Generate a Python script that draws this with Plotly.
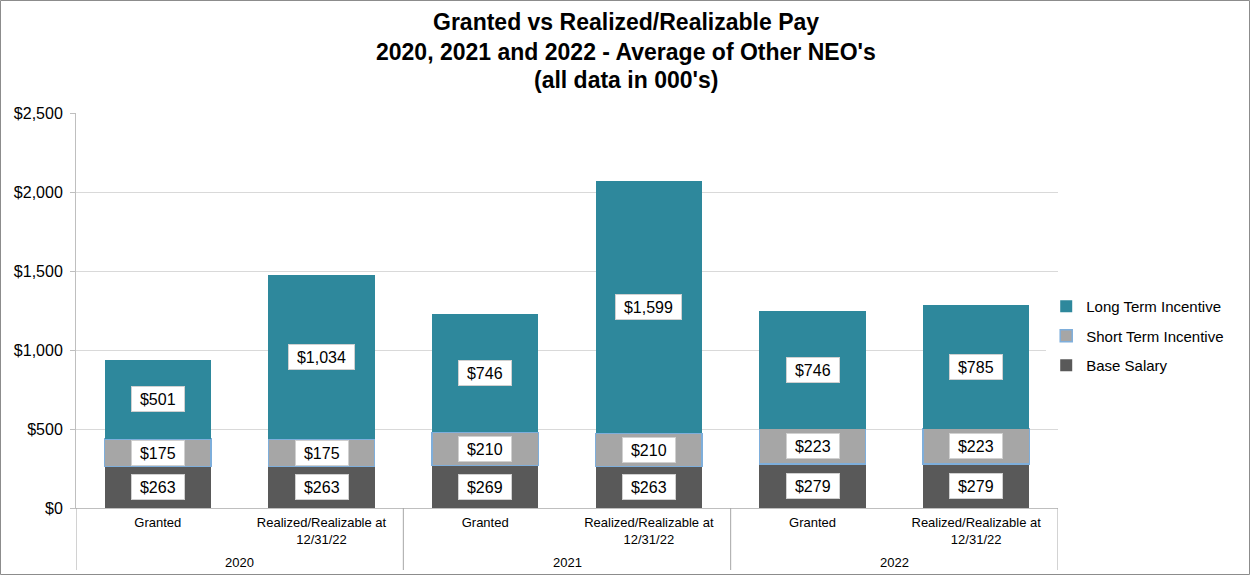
import plotly.graph_objects as go

years = ["2020", "2020", "2021", "2021", "2022", "2022"]
kinds = ["Granted", "Realized/Realizable at<br>12/31/22"] * 3
base_salary = [263, 263, 269, 263, 279, 279]
short_term = [175, 175, 210, 210, 223, 223]
long_term = [501, 1034, 746, 1599, 746, 785]
y_ticks = [0, 500, 1000, 1500, 2000, 2500]
y_tick_labels = ["$0", "$500", "$1,000", "$1,500", "$2,000", "$2,500"]
title_lines = ["Granted vs Realized/Realizable Pay",
               "2020, 2021 and 2022 - Average of Other NEO's",
               "(all data in 000's)"]

W, H = 1252, 577
ML, MR, MT, MB = 76, 194, 113, 69
pw = W - ML - MR
ph = H - MT - MB
FONT = "Liberation Sans, Arial"

xs = list(range(len(years)))

fig = go.Figure()
fig.add_trace(go.Bar(x=xs, y=base_salary, name="Base Salary", legendgroup="a",
                     legendrank=3, marker=dict(color="#595959", line=dict(width=0))))
fig.add_trace(go.Bar(x=xs, y=short_term, name="Short Term Incentive", legendgroup="b",
                     legendrank=2, marker=dict(color="#a6a6a6", line=dict(color="#7eaedb", width=1.5))))
fig.add_trace(go.Bar(x=xs, y=long_term, name="Long Term Incentive", legendgroup="c",
                     legendrank=1, marker=dict(color="#2e889c", line=dict(width=0))))


def fmt(v):
    return "${:,}".format(v)


def text_w(s, fs=16):
    w = 0
    for c in s:
        w += 0.278 if c in ",." else 0.556
    return w * fs


annotations = []
for i in xs:
    bottoms = [0, base_salary[i], base_salary[i] + short_term[i]]
    vals = [base_salary[i], short_term[i], long_term[i]]
    for b, v in zip(bottoms, vals):
        s = fmt(v)
        annotations.append(dict(
            x=i, y=b + v / 2, xref="x", yref="y", text=s, showarrow=False,
            font=dict(family=FONT, size=16, color="#000000"),
            bgcolor="#ffffff", bordercolor="#d0d0d0", borderwidth=1, borderpad=2,
            width=text_w(s) + 12, height=20))

# year group labels and dividers
groups = []
for i, yv in enumerate(years):
    if not groups or groups[-1][0] != yv:
        groups.append([yv, i, i])
    else:
        groups[-1][2] = i
shapes = []
for yv, a, b in groups:
    annotations.append(dict(
        x=(a + b) / 2, xref="x", y=-(562 - MT - ph) / ph, yref="paper", yanchor="middle",
        text=yv, showarrow=False, font=dict(family=FONT, size=13, color="#000000")))
bounds = [groups[0][1] - 0.5] + [g[2] + 0.5 for g in groups]
for bx in bounds:
    shapes.append(dict(type="line", xref="x", yref="paper", x0=bx, x1=bx,
                       y0=0, y1=-62 / ph, line=dict(color="#a6a6a6", width=1)))

title_y = [22, 52, 80]
for line, ty in zip(title_lines, title_y):
    annotations.append(dict(
        x=(626 - ML) / pw, xref="paper", xanchor="center", y=(ph + MT - ty) / ph, yref="paper",
        yanchor="middle", text="<b>" + line + "</b>", showarrow=False,
        font=dict(size=23, family=FONT, color="#000000")))

shapes.append(dict(type="rect", xref="paper", yref="paper",
                   x0=(-ML + 0.5) / pw, x1=(W - ML - 2.5) / pw,
                   y0=-(MB - 2.5) / ph, y1=(ph + MT - 0.5) / ph,
                   line=dict(color="#8c8c8c", width=1), fillcolor="rgba(0,0,0,0)", layer="below"))

fig.update_layout(
    width=W, height=H,
    margin=dict(l=ML, r=MR, t=MT, b=MB, autoexpand=False),
    barmode="stack", bargap=0.35,
    paper_bgcolor="#ffffff", plot_bgcolor="#ffffff",
    font=dict(family=FONT, color="#000000"),
    xaxis=dict(range=[-0.5, len(xs) - 0.5], tickvals=xs, ticktext=kinds,
               showline=True, linecolor="#bfbfbf", linewidth=1,
               tickfont=dict(size=13, color="#000000"), ticks="", showgrid=False,
               zeroline=False, automargin=False, ticklabelstandoff=2),
    yaxis=dict(range=[0, 2500], tickvals=y_ticks, ticktext=y_tick_labels,
               tickfont=dict(size=16, color="#000000"),
               showgrid=True, gridcolor="#d9d9d9", gridwidth=1,
               showline=True, linecolor="#bfbfbf", linewidth=1,
               ticks="outside", ticklen=5, tickcolor="#bfbfbf", zeroline=False,
               automargin=False, ticklabelstandoff=4),
    legend=dict(x=0.988, xanchor="left", y=(MT + ph - 336) / ph, yanchor="middle",
                traceorder="grouped",
                font=dict(size=15, color="#000000"), itemwidth=30, tracegroupgap=7),
    annotations=annotations, shapes=shapes,
)

fig.write_html("out.html", config={"displayModeBar": False},
               post_script="document.body.style.margin='0';document.body.style.padding='0';")
